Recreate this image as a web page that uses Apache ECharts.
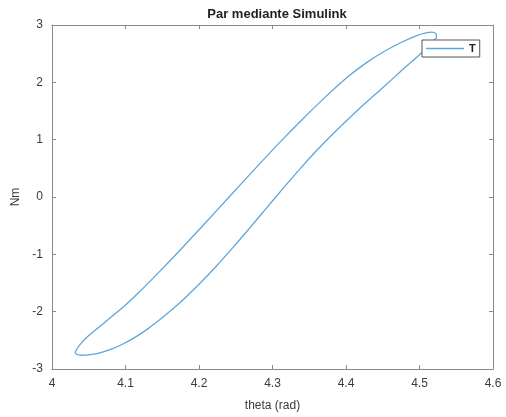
<!DOCTYPE html>
<html><head><meta charset="utf-8">
<script src="https://cdn.jsdelivr.net/npm/echarts@6/dist/echarts.min.js"></script>
<style>html,body{margin:0;padding:0;background:#fff}#c{width:506px;height:417px}</style>
</head><body><div id="c"></div>
<script>
// Rising (upper-left) branch of the loop, from bottom tip to top-right tip
const upperTheta = [4.0313,4.0340,4.0395,4.0476,4.0562,4.0789,4.0993,4.1197,4.1469,4.1741,4.2082,4.2422,4.2762,4.3102,4.3415,4.3714,4.4054,4.4286,4.4507,4.4735,4.4962,4.5075,4.5170,4.5224,4.5231,4.5184];
const upperT     = [-2.719,-2.647,-2.552,-2.447,-2.352,-2.111,-1.893,-1.645,-1.293,-0.928,-0.457,0.017,0.491,0.957,1.366,1.738,2.126,2.348,2.528,2.686,2.816,2.859,2.874,2.845,2.784,2.724];
// Falling (lower-right) branch, from top-right tip back to bottom tip
const lowerTheta = [4.5030,4.4735,4.4507,4.4272,4.4054,4.3823,4.3601,4.3374,4.3147,4.2920,4.2694,4.2463,4.2241,4.2014,4.1810,4.1633,4.1469,4.1293,4.1129,4.0952,4.0789,4.0626,4.0490,4.0395,4.0340,4.0313];
const lowerT     = [2.517,2.181,1.914,1.647,1.388,1.103,0.810,0.491,0.155,-0.190,-0.534,-0.879,-1.199,-1.505,-1.760,-1.964,-2.138,-2.309,-2.448,-2.572,-2.662,-2.727,-2.754,-2.760,-2.747,-2.719];
const xTicks = [4,4.1,4.2,4.3,4.4,4.5,4.6];
const yTicks = [-3,-2,-1,0,1,2,3];
const seriesName = 'T';
const titleText = 'Par mediante Simulink';
const xName = 'theta (rad)';
const yName = 'Nm';

const data = [];
upperTheta.forEach((x,i)=>data.push([x, upperT[i]]));
lowerTheta.forEach((x,i)=>data.push([x, lowerT[i]]));

const font = 'Liberation Sans, Arial, sans-serif';
const axisCol = '#8a8a8a';
const labCol = '#3a3a3a';
const lineCol = '#5BA7DD';
function xAx(pos, show){
  return {type:'value', position:pos, min:xTicks[0], max:xTicks[xTicks.length-1], interval:0.1,
    axisLine:{show:true, onZero:false, lineStyle:{color:axisCol, width:1}},
    axisTick:{show:true, inside:true, length:4, lineStyle:{color:axisCol}},
    splitLine:{show:false},
    axisLabel:{show:show, color:labCol, fontFamily:font, fontSize:12, margin:9,
      formatter:v=>String(Math.round(v*10)/10)},
    name: show?xName:'', nameLocation:'middle', nameGap:31,
    nameTextStyle:{color:labCol, fontFamily:font, fontSize:12}};
}
function yAx(pos, show){
  return {type:'value', position:pos, min:yTicks[0], max:yTicks[yTicks.length-1], interval:1,
    axisLine:{show:true, onZero:false, lineStyle:{color:axisCol, width:1}},
    axisTick:{show:true, inside:true, length:4, lineStyle:{color:axisCol}},
    splitLine:{show:false},
    axisLabel:{show:show, color:labCol, fontFamily:font, fontSize:12, margin:9},
    name: show?yName:'', nameLocation:'middle', nameGap:25,
    nameTextStyle:{color:labCol, fontFamily:font, fontSize:12}};
}
const chart = echarts.init(document.getElementById('c'), null, {renderer:'canvas'});
chart.setOption({
  animation:false,
  backgroundColor:'#fff',
  title:{text:titleText, left:272, top:3, textAlign:'center',
    textStyle:{fontFamily:font, fontSize:13, fontWeight:'bold', color:'#222'}},
  grid:{left:52, right:13, top:25, bottom:44},
  xAxis:[xAx('bottom', true), xAx('top', false)],
  yAxis:[yAx('left', true), yAx('right', false)],
  legend:{show:true, left:422, top:40, z:10, backgroundColor:'#fff',
    borderColor:'#555', borderWidth:1, padding:[3,4,3,4], itemWidth:38, itemHeight:1.5, itemGap:4,
    icon:'rect',
    textStyle:{fontFamily:font, fontSize:11, color:'#222', fontWeight:'bold'},
    data:[seriesName]},
  series:[{name:seriesName, type:'line', data:data, xAxisIndex:0, yAxisIndex:0, z:1,
    showSymbol:false, symbol:'none', smooth:0.25,
    lineStyle:{color:lineCol, width:1.3}, itemStyle:{color:lineCol}}]
});
</script></body></html>
